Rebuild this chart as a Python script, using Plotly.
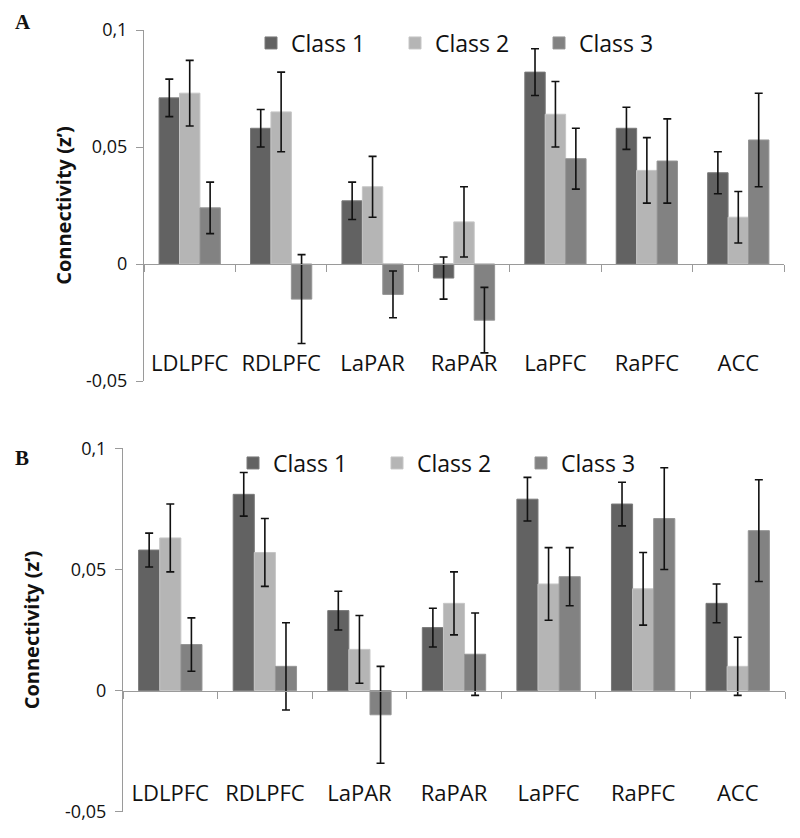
import plotly.graph_objects as go

regions = ["LDLPFC", "RDLPFC", "LaPAR", "RaPAR", "LaPFC", "RaPFC", "ACC"]
classes = ["Class 1", "Class 2", "Class 3"]

# Panel A means and error (+/-)
a_class1 = [0.071, 0.058, 0.027, -0.006, 0.082, 0.058, 0.039]
a_class2 = [0.073, 0.065, 0.033, 0.018, 0.064, 0.040, 0.020]
a_class3 = [0.024, -0.015, -0.013, -0.024, 0.045, 0.044, 0.053]
a_err1 = [0.008, 0.008, 0.008, 0.009, 0.010, 0.009, 0.009]
a_err2 = [0.014, 0.017, 0.013, 0.015, 0.014, 0.014, 0.011]
a_err3 = [0.011, 0.019, 0.010, 0.014, 0.013, 0.018, 0.020]

# Panel B means and error (+/-)
b_class1 = [0.058, 0.081, 0.033, 0.026, 0.079, 0.077, 0.036]
b_class2 = [0.063, 0.057, 0.017, 0.036, 0.044, 0.042, 0.010]
b_class3 = [0.019, 0.010, -0.010, 0.015, 0.047, 0.071, 0.066]
b_err1 = [0.007, 0.009, 0.008, 0.008, 0.009, 0.009, 0.008]
b_err2 = [0.014, 0.014, 0.014, 0.013, 0.015, 0.015, 0.012]
b_err3 = [0.011, 0.018, 0.020, 0.017, 0.012, 0.021, 0.021]

y_tick_vals = [-0.05, 0, 0.05, 0.1]
y_tick_text = ["-0,05", "0", "0,05", "0,1"]

fill_colors = ["#626262", "#b5b5b5", "#828282"]
edge_colors = ["#7a7a7a", "#c6c6c6", "#959595"]

FONT = "Open Sans"
W, H = 792, 830  # page body has an 8px margin

fig = go.Figure()

panels = [
    ("x", "y", "legend", [a_class1, a_class2, a_class3], [a_err1, a_err2, a_err3]),
    ("x2", "y2", "legend2", [b_class1, b_class2, b_class3], [b_err1, b_err2, b_err3]),
]
for xa, ya, lg, vals, errs in panels:
    for i, name in enumerate(classes):
        fig.add_trace(go.Bar(
            x=regions, y=vals[i], name=name,
            xaxis=xa, yaxis=ya, legend=lg,
            marker=dict(color=fill_colors[i], line=dict(color=edge_colors[i], width=1)),
            error_y=dict(type="data", array=errs[i], visible=True,
                         color="#111111", thickness=1.6, width=4),
        ))

def px_x(v):
    return (v - 8) / W

def px_y(v):
    return 1 - (v - 8) / H

# Domains (paper fractions)
A_x = [px_x(144), px_x(784)]
A_y = [px_y(381), px_y(30)]
B_x = [px_x(123), px_x(785)]
B_y = [px_y(811.7), px_y(448.3)]
A_zero = A_y[0] + (A_y[1] - A_y[0]) / 3
B_zero = B_y[0] + (B_y[1] - B_y[0]) / 3

axis_gray = "#9a9a9a"

def xaxis_cfg(domain, pos, standoff):
    return dict(
        domain=domain, anchor="free", position=pos, type="category",
        range=[-0.5, 6.5], tickson="boundaries", ticks="outside", ticklen=7,
        tickcolor=axis_gray, showline=True, linecolor=axis_gray, linewidth=1,
        showgrid=False, zeroline=False, automargin=False,
        ticklabelstandoff=standoff,
        tickfont=dict(family=FONT, size=22, color="#111111"),
    )

def yaxis_cfg(domain, anchor, standoff):
    return dict(
        domain=domain, anchor=anchor, range=[-0.05, 0.1],
        tickvals=y_tick_vals, ticktext=y_tick_text, ticks="outside", ticklen=7,
        tickcolor=axis_gray, showline=True, linecolor=axis_gray, linewidth=1,
        showgrid=False, zeroline=False, automargin=False,
        ticklabelstandoff=5,
        tickfont=dict(family=FONT, size=18, color="#111111"),
        title=dict(text="<b>Connectivity (z’)</b>", standoff=standoff,
                   font=dict(family=FONT, size=20, color="#111111")),
    )

legend_common = dict(
    orientation="h", yanchor="middle", xanchor="left",
    font=dict(family=FONT, size=23, color="#111111"),
    bgcolor="rgba(0,0,0,0)", entrywidth=99, entrywidthmode="pixels",
    traceorder="normal",
)

fig.update_layout(
    width=W, height=H,
    margin=dict(l=0, r=0, t=0, b=0),
    paper_bgcolor="white", plot_bgcolor="white",
    barmode="group", bargap=0.33, bargroupgap=0,
    xaxis=xaxis_cfg(A_x, A_zero, 80),
    yaxis=yaxis_cfg(A_y, "x", 9),
    xaxis2=xaxis_cfg(B_x, B_zero, 83),
    yaxis2=yaxis_cfg(B_y, "x2", 20),
    legend=dict(x=px_x(251), y=px_y(43), **legend_common),
    legend2=dict(x=px_x(233), y=px_y(463), **legend_common),
    annotations=[
        dict(text="<b>A</b>", x=px_x(13), y=px_y(22), xref="paper", yref="paper",
             xanchor="left", yanchor="middle", showarrow=False,
             font=dict(family="Liberation Serif", size=21, color="#111111")),
        dict(text="<b>B</b>", x=px_x(13), y=px_y(458), xref="paper", yref="paper",
             xanchor="left", yanchor="middle", showarrow=False,
             font=dict(family="Liberation Serif", size=21, color="#111111")),
    ],
    showlegend=True,
)

fig.write_html("out.html")
